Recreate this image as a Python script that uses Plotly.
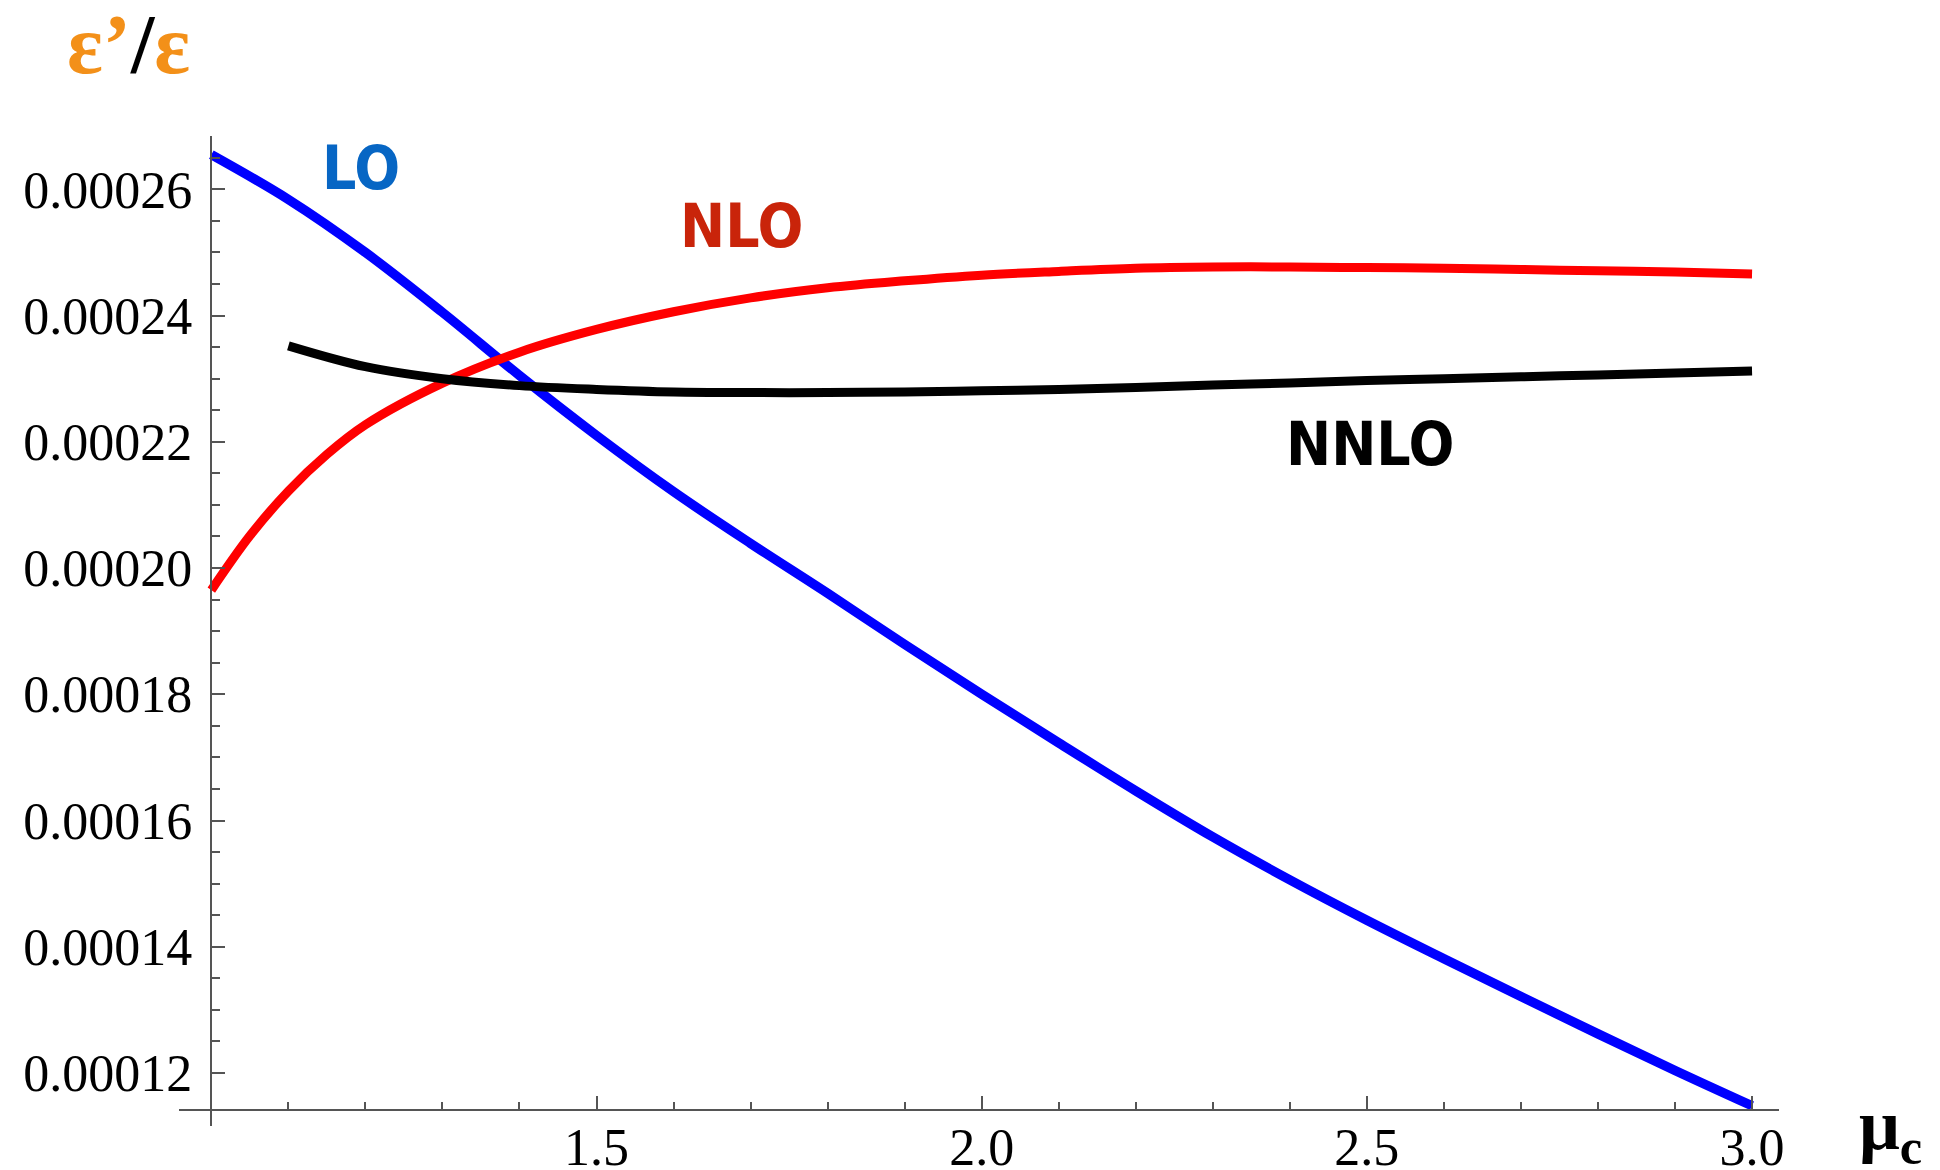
import plotly.graph_objects as go

# ---- data ----
mu_lo = [1.0, 1.1, 1.2, 1.3, 1.4, 1.5, 1.6, 1.7, 1.8, 1.9, 2.0,
         2.1, 2.2, 2.3, 2.4, 2.5, 2.6, 2.7, 2.8, 2.9, 3.0]
lo = [265.5, 258.4, 250.0, 240.5, 230.5, 221.0, 212.1, 203.9, 196.0, 187.9, 180.0,
      172.3, 164.7, 157.4, 150.6, 144.2, 138.1, 132.1, 126.2, 120.4, 114.8]

mu_nlo = [1.0, 1.05, 1.1, 1.15, 1.2, 1.3, 1.4, 1.5, 1.6, 1.7, 1.8, 1.9, 2.0,
          2.1, 2.2, 2.3, 2.4, 2.5, 2.6, 2.7, 2.8, 2.9, 3.0]
nlo = [196.5, 205.1, 212.2, 218.0, 222.7, 229.3, 234.2, 237.8, 240.6, 242.8, 244.4,
       245.5, 246.4, 247.0, 247.5, 247.7, 247.7, 247.6, 247.5, 247.3, 247.1, 246.9, 246.6]

mu_nnlo = [1.1, 1.2, 1.3, 1.4, 1.5, 1.6, 1.7, 1.8, 1.9, 2.0,
           2.1, 2.2, 2.3, 2.4, 2.5, 2.6, 2.7, 2.8, 2.9, 3.0]
nnlo = [235.2, 231.9, 230.0, 228.9, 228.3, 227.9, 227.8, 227.8, 227.9, 228.1,
        228.3, 228.6, 229.0, 229.3, 229.7, 230.0, 230.3, 230.6, 230.9, 231.2]

scale = 1e-6  # values above are in units of 1e-6

x_tickvals = [1.5, 2.0, 2.5, 3.0]
x_ticktext = ["1.5", "2.0", "2.5", "3.0"]
x_minor = [1.1, 1.2, 1.3, 1.4, 1.6, 1.7, 1.8, 1.9, 2.1, 2.2, 2.3, 2.4,
           2.6, 2.7, 2.8, 2.9]
y_tickvals = [0.00012, 0.00014, 0.00016, 0.00018, 0.00020, 0.00022, 0.00024, 0.00026]
y_ticktext = ["0.00012", "0.00014", "0.00016", "0.00018", "0.00020",
              "0.00022", "0.00024", "0.00026"]
y_minor = [0.000125, 0.00013, 0.000135, 0.000145, 0.00015, 0.000155,
           0.000165, 0.00017, 0.000175, 0.000185, 0.00019, 0.000195,
           0.000205, 0.00021, 0.000215, 0.000225, 0.00023, 0.000235,
           0.000245, 0.00025, 0.000255, 0.000265]

fig = go.Figure()
fig.add_trace(go.Scatter(x=mu_lo, y=[v * scale for v in lo], mode="lines",
                         line=dict(color="#0000FF", width=9.5, shape="spline"),
                         name="LO", showlegend=False))
fig.add_trace(go.Scatter(x=mu_nlo, y=[v * scale for v in nlo], mode="lines",
                         line=dict(color="#FF0000", width=9, shape="spline"),
                         name="NLO", showlegend=False))
fig.add_trace(go.Scatter(x=mu_nnlo, y=[v * scale for v in nnlo], mode="lines",
                         line=dict(color="#000000", width=9, shape="spline"),
                         name="NNLO", showlegend=False))

axis_col = "#555555"
serif = "Liberation Serif, Times New Roman, serif"
tick_font = dict(family=serif, size=52, color="black")

fig.update_layout(
    width=1940, height=1170,
    margin=dict(l=171, r=169, t=128, b=52),
    paper_bgcolor="white", plot_bgcolor="white",
    xaxis=dict(
        range=[0.958, 3.035], anchor="free", position=0.0162,
        showgrid=False, zeroline=False,
        showline=True, linecolor=axis_col, linewidth=1.5,
        tickmode="array", tickvals=x_tickvals, ticktext=x_ticktext,
        ticks="inside", ticklen=13, tickwidth=1.5, tickcolor=axis_col,
        minor=dict(tickmode="array", tickvals=x_minor, ticks="inside",
                   ticklen=7, tickwidth=1.5, tickcolor=axis_col),
        tickfont=tick_font, ticklabelstandoff=-8, automargin=False,
    ),
    yaxis=dict(
        range=[0.0001116, 0.00026845], anchor="free", position=0.0202,
        showgrid=False, zeroline=False,
        showline=True, linecolor=axis_col, linewidth=1.5,
        tickmode="array", tickvals=y_tickvals, ticktext=y_ticktext,
        ticks="inside", ticklen=13, tickwidth=1.5, tickcolor=axis_col,
        minor=dict(tickmode="array", tickvals=y_minor, ticks="inside",
                   ticklen=8, tickwidth=1.5, tickcolor=axis_col),
        tickfont=tick_font, ticklabelstandoff=8, automargin=False,
    ),
)

label_font = "Liberation Sans Narrow, DejaVu Sans Condensed, Liberation Sans, sans-serif"
fig.add_annotation(x=1.194, y=0.0002634, xref="x", yref="y", text="<b>LO</b>",
                   showarrow=False, font=dict(family=label_font, size=60, color="#0766C4"))
fig.add_annotation(x=1.688, y=0.0002542, xref="x", yref="y", text="<b>NLO</b>",
                   showarrow=False, font=dict(family=label_font, size=60, color="#C9240A"))
fig.add_annotation(x=2.505, y=0.0002197, xref="x", yref="y", text="<b>NNLO</b>",
                   showarrow=False, font=dict(family=label_font, size=60, color="#000000"))

# axis titles (plot area spans page x 179..1779, y 136..1126)
fig.add_annotation(
    x=(128 - 179) / 1600, y=(1126 - 45) / 990, xref="paper", yref="paper",
    text="<b><span style='color:#F39019'>ε’</span>/<span style='color:#F39019'>ε</span></b>",
    showarrow=False, xanchor="center", yanchor="middle",
    font=dict(family=serif, size=84, color="black"))
fig.add_annotation(
    x=(1890 - 179) / 1600, y=(1126 - 1130) / 990, xref="paper", yref="paper",
    text="<b>μ<sub>c</sub></b>", showarrow=False, xanchor="center", yanchor="middle",
    font=dict(family=serif, size=72, color="black"))

fig.write_html("out.html")
